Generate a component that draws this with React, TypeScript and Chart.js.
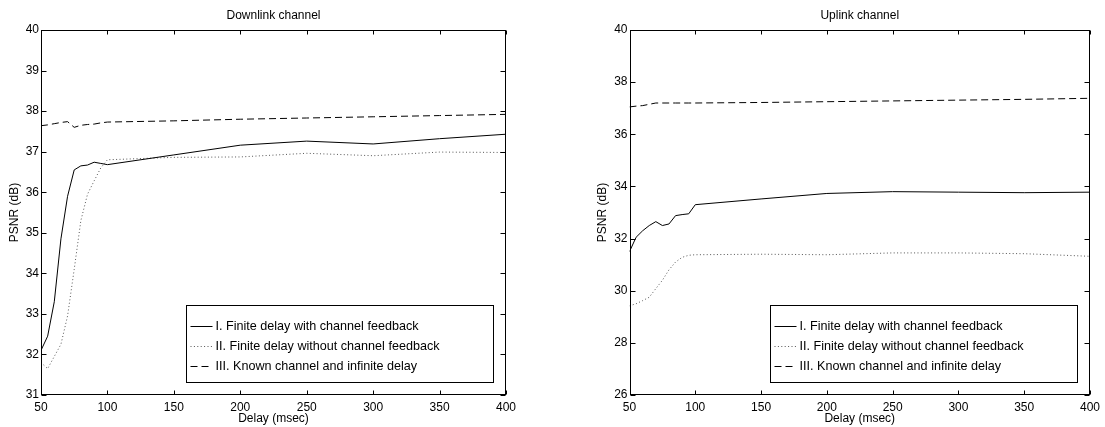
import React, { useEffect, useRef } from "react";
import { Chart, registerables } from "chart.js";

Chart.register(...registerables);

const FONT_FAMILY = "'Liberation Sans', Arial, Helvetica, sans-serif";

// Delay values (msec)
const delays = [50, 55, 60, 65, 70, 75, 80, 85, 90, 95, 100, 150, 200, 250, 300, 350, 400];

// Downlink channel PSNR (dB)
const downlinkFeedback = [32.1, 32.45, 33.3, 34.85, 35.9, 36.55, 36.65, 36.67, 36.74, 36.71, 36.68, 36.92, 37.16, 37.26, 37.19, 37.32, 37.43];
const downlinkNoFeedback = [31.8, 31.65, 31.95, 32.25, 32.95, 34.1, 35.3, 35.95, 36.28, 36.6, 36.8, 36.86, 36.87, 36.96, 36.9, 36.99, 36.98];
const downlinkKnown = [37.64, 37.66, 37.69, 37.72, 37.74, 37.6, 37.65, 37.67, 37.68, 37.71, 37.73, 37.76, 37.8, 37.83, 37.86, 37.89, 37.92];

// Uplink channel PSNR (dB)
const uplinkFeedback = [31.5, 32.05, 32.3, 32.5, 32.65, 32.5, 32.56, 32.88, 32.92, 32.95, 33.3, 33.52, 33.73, 33.8, 33.78, 33.76, 33.78];
const uplinkNoFeedback = [29.42, 29.5, 29.62, 29.75, 30.08, 30.4, 30.8, 31.1, 31.28, 31.36, 31.38, 31.4, 31.38, 31.45, 31.45, 31.42, 31.32];
const uplinkKnown = [37.05, 37.08, 37.1, 37.15, 37.2, 37.2, 37.2, 37.2, 37.2, 37.2, 37.2, 37.22, 37.25, 37.28, 37.31, 37.34, 37.38];

const seriesLabels = [
  "I. Finite delay with channel feedback",
  "II. Finite delay without channel feedback",
  "III. Known channel and infinite delay",
];

const xTickValues = [50, 100, 150, 200, 250, 300, 350, 400];
const downlinkYTicks = [31, 32, 33, 34, 35, 36, 37, 38, 39, 40];
const uplinkYTicks = [26, 28, 30, 32, 34, 36, 38, 40];

const lineStyles = [
  { color: "#000000", dash: [] as number[] },
  { color: "#555555", dash: [1, 2.4] },
  { color: "#000000", dash: [7, 4] },
];

const framePlugin = {
  id: "matlabFrame",
  afterDatasetsDraw(chart: any) {
    const { ctx, chartArea, scales } = chart;
    const l = Math.round(chartArea.left) + 0.5;
    const r = Math.round(chartArea.right) - 0.5;
    const t = Math.round(chartArea.top) + 0.5;
    const b = Math.round(chartArea.bottom) - 0.5;
    ctx.save();
    ctx.strokeStyle = "#000";
    ctx.lineWidth = 1;
    ctx.setLineDash([]);
    ctx.strokeRect(l, t, r - l, b - t);
    const tl = 4;
    ctx.beginPath();
    for (const tk of scales.x.ticks) {
      const px = Math.round(scales.x.getPixelForValue(tk.value)) + 0.5;
      ctx.moveTo(px, b);
      ctx.lineTo(px, b - tl);
      ctx.moveTo(px, t);
      ctx.lineTo(px, t + tl);
    }
    for (const tk of scales.y.ticks) {
      const py = Math.round(scales.y.getPixelForValue(tk.value)) + 0.5;
      ctx.moveTo(l, py);
      ctx.lineTo(l + tl + 1, py);
      ctx.moveTo(r, py);
      ctx.lineTo(r - tl - 1, py);
    }
    ctx.stroke();
    ctx.restore();
  },
};

const boxLegendPlugin = {
  id: "boxLegend",
  afterDraw(chart: any) {
    const { ctx, chartArea } = chart;
    const w = 307;
    const h = 77;
    const x0 = Math.round(chartArea.right - 13 - w) + 0.5;
    const y0 = Math.round(chartArea.bottom - 13 - h) + 0.5;
    ctx.save();
    ctx.fillStyle = "#fff";
    ctx.fillRect(x0, y0, w, h);
    ctx.strokeStyle = "#000";
    ctx.lineWidth = 1;
    ctx.setLineDash([]);
    ctx.strokeRect(x0, y0, w, h);
    chart.data.datasets.forEach((ds: any, i: number) => {
      const y = Math.round(y0 + 20 + i * 20) + 0.5;
      ctx.beginPath();
      ctx.strokeStyle = ds.borderColor;
      ctx.setLineDash(ds.borderDash || []);
      ctx.moveTo(x0 + 4, y);
      ctx.lineTo(x0 + 26, y);
      ctx.stroke();
      ctx.setLineDash([]);
      ctx.fillStyle = "#000";
      ctx.font = `12.6px ${FONT_FAMILY}`;
      ctx.textBaseline = "middle";
      ctx.textAlign = "left";
      ctx.fillText(ds.label, x0 + 29, y);
    });
    ctx.restore();
  },
};

type PanelProps = {
  title: string;
  series: number[][];
  yTicks: number[];
  left: number;
  width: number;
  padLeft: number;
  padRight: number;
};

function Panel({ title, series, yTicks, left, width, padLeft, padRight }: PanelProps) {
  const ref = useRef<HTMLCanvasElement | null>(null);
  useEffect(() => {
    if (!ref.current) return;
    const font = { family: FONT_FAMILY, size: 12, weight: "normal" as const };
    const chart = new Chart(ref.current, {
      type: "line",
      data: {
        datasets: series.map((vals, i) => ({
          label: seriesLabels[i],
          data: delays.map((d, j) => ({ x: d, y: vals[j] })),
          borderColor: lineStyles[i].color,
          borderDash: lineStyles[i].dash,
          borderWidth: 1,
          pointRadius: 0,
          tension: 0,
          fill: false,
        })),
      },
      options: {
        responsive: false,
        animation: false,
        events: [],
        layout: { padding: { left: padLeft, right: padRight, top: 0, bottom: 0 }, autoPadding: false },
        plugins: {
          legend: { display: false },
          tooltip: { enabled: false },
          title: {
            display: true,
            text: title,
            fullSize: false,
            color: "#000",
            font,
            padding: { top: 8.5, bottom: 7.1 },
          },
        },
        scales: {
          x: {
            type: "linear",
            min: xTickValues[0],
            max: xTickValues[xTickValues.length - 1],
            afterBuildTicks: (s: any) => {
              s.ticks = xTickValues.map((v) => ({ value: v }));
            },
            afterFit: (s: any) => {
              s.height = 32;
            },
            grid: { display: false, drawTicks: false },
            border: { display: false },
            ticks: { color: "#000", font, padding: 5, maxRotation: 0, autoSkip: false },
            title: { display: true, text: "Delay (msec)", color: "#000", font, padding: { top: 0, bottom: 1 } },
          },
          y: {
            type: "linear",
            min: yTicks[0],
            max: yTicks[yTicks.length - 1],
            afterBuildTicks: (s: any) => {
              s.ticks = yTicks.map((v) => ({ value: v }));
            },
            afterFit: (s: any) => {
              s.width = 41;
            },
            grid: { display: false, drawTicks: false },
            border: { display: false },
            ticks: { color: "#000", font, padding: 2, autoSkip: false },
            title: { display: true, text: "PSNR (dB)", color: "#000", font, padding: { top: 7, bottom: 0 } },
          },
        },
      },
      plugins: [framePlugin, boxLegendPlugin],
    } as any);
    return () => chart.destroy();
  }, []);
  return (
    <canvas
      ref={ref}
      width={width}
      height={427}
      style={{ position: "absolute", left, top: 0, width, height: 427 }}
    />
  );
}

export default function App() {
  return (
    <div style={{ position: "absolute", left: 0, top: 0, width: 1105, height: 427, background: "#fff" }}>
      <Panel
        title="Downlink channel"
        series={[downlinkFeedback, downlinkNoFeedback, downlinkKnown]}
        yTicks={downlinkYTicks}
        left={0}
        width={552}
        padLeft={0}
        padRight={46}
      />
      <Panel
        title="Uplink channel"
        series={[uplinkFeedback, uplinkNoFeedback, uplinkKnown]}
        yTicks={uplinkYTicks}
        left={552}
        width={553}
        padLeft={36.5}
        padRight={11}
      />
    </div>
  );
}
